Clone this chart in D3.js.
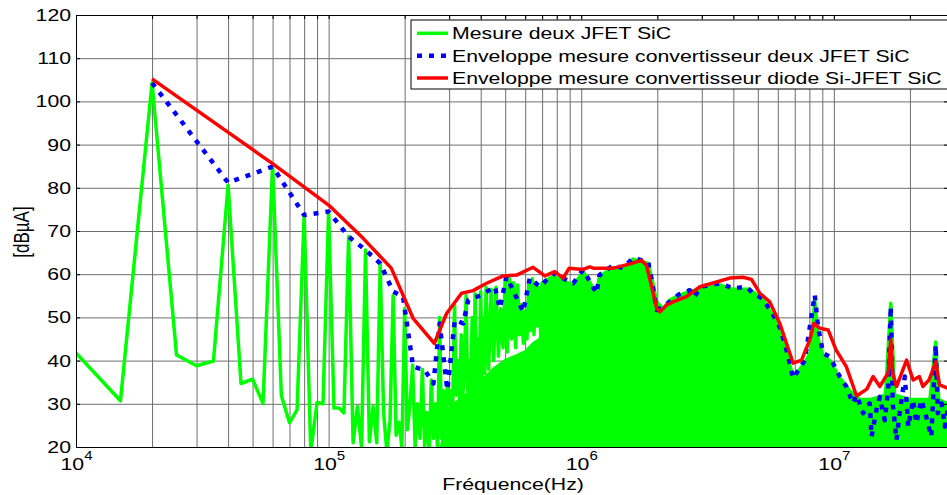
<!DOCTYPE html>
<html><head><meta charset="utf-8">
<script src="https://cdn.jsdelivr.net/npm/d3@7"></script>
<style>html,body{margin:0;padding:0;background:#fff;}svg{display:block;}</style>
</head><body>
<svg id="chart" width="947" height="495"></svg>
<script>
// ---------------- DATA ----------------
const seriesNames = ["Mesure deux JFET SiC",
  "Enveloppe mesure convertisseur deux JFET SiC",
  "Enveloppe mesure convertisseur diode Si-JFET SiC"];
const yTickValues = [20,30,40,50,60,70,80,90,100,110,120];
const xTickValues = [1e4,1e5,1e6,1e7];
const xTickExponents = ["4","5","6","7"];
const xLabel = "Fréquence(Hz)";
const yLabel = "[dBµA]";

// Green measurement: individual spectral lines (kHz, dBµA)
const greenSpikeKHz = [10,15,20,25,30,35,40,45,50,55,60,65,70,75,80,85,90,95,100,105,110,115,120,125,130,135,140,145,150,155,160,165,170,175,180,185,190,195,200,205,210,215,220,225,230,235,240,245,250,255,260,265,270,275,280,285,290,295,300,305,310,315,320,325,330,335,340,345,350,355,360,365,370,375,380,385,390,395,400,405,410,415,420,
  430,440,450,460,470,480,490,500,510,520,530,540,550,560,570,580,590,600,610,620,630,640,650,660,670,680,690,700];
const greenSpikeDb = [41.8,30.7,104.3,41.3,38.8,39.9,80.6,34.7,35.7,30.1,
  85.3,31.9,25.6,28.6,73.7,19,30.3,30,74.5,29,
  29,27.9,68.7,21,29.4,20,65.6,21.2,29.4,21,
  62.5,28,19,26,55,22.7,25.7,20,52,24,
  30,39,20,30,22,38,20,28,19,35.5,
  22,30,19,50,22,33,19,34.7,30,33,
  30,53,32,40,31,46,32,38,55,33,
  40,33,50,33,55.5,35,45,35,56,36,
  50,37,57,
  38,56.5,40,57,41,52,43,59,42,59,45,58,43,57.5,46,53,44,51.5,45,58.5,47,59,46,58,48,57,47,58];

// Green measurement: dense band, upper edge (MHz, dBµA)
const greenBandMHz = [0.28,0.30,0.35,0.40,0.45,0.50,0.55,0.60,0.65,0.69,0.70,0.774,0.929,1.02,1.15,1.18,1.34,1.46,1.60,1.84,1.92,1.99,2.11,2.24,2.42,2.69,2.99,3.54,3.99,4.65,5.25,5.93,6.49,6.90,7.67,8.10,8.40,8.66,9.06,9.63,10.55,11.56,12.66,14.0,16.0,16.8,17.4,20.0,24.0,25.3,26.0,28.3];
const greenBandDb  = [20,29,32,35,38,40,41,42,44,45,58,59.5,57.5,60.5,55.5,59.5,61.5,61,63.5,62.5,58,53.5,52,54,55,56,56.5,57.5,56.5,56.5,54,49,42,36,39.5,42,54,45,41,40,36,33,31,31,32,53.3,32,31,31,44.3,31,30];

// Blue envelope, converter with two SiC JFETs (MHz, dBµA)
const blueMHz = [0.020,0.040,0.060,0.080,0.100,0.120,0.140,0.160,0.180,0.197,0.216,0.240,0.260,0.275,0.295,0.316,0.341,0.357,0.403,0.455,0.476,0.506,0.589,0.626,0.686,0.774,0.929,1.017,1.15,1.18,1.34,1.46,1.60,1.84,1.90,1.99,2.11,2.24,2.42,2.69,2.80,2.99,3.54,3.99,4.50,4.79,5.20,5.66,6.10,6.49,6.90,7.67,8.40,8.66,9.06,9.63,10.55,11.2,11.9,12.3,13.05,13.87,14.1,14.74,15.2,15.9,16.4,16.8,17.1,17.7,18.2,19.1,19.7,20.6,21.2,22.2,23.2,24.3,25.3,25.8,26.7,27.5,28.3];
const blueDb  = [104.3,81.2,84.9,73.7,74.5,68.7,65.6,62.5,56.0,54.8,38.6,37.8,34.7,48.6,33.2,49.4,48.6,54.0,55.2,57.1,52.1,59.4,51.3,59.1,57.1,60.2,57.9,61.0,55.6,59.8,62.1,61.4,63.7,62.9,58.7,51.7,52.5,53.6,55.2,56.3,54.8,57.1,57.9,56.7,57.1,55.6,54.4,51.3,47.8,42.5,35.9,40.1,55.2,47.8,41.7,40.9,36.3,34.0,30.1,32.0,27.8,30.1,22.4,28.6,31.6,26.2,33.2,52.5,30.0,21.6,27.8,36.3,24.7,30.9,25.5,30.9,27.0,22.4,43.6,27.8,30.1,24.7,29.0];

// Red envelope, converter with Si diode + SiC JFET (MHz, dBµA)
const redMHz = [0.020,0.060,0.100,0.137,0.177,0.216,0.262,0.293,0.336,0.373,0.422,0.491,0.555,0.645,0.718,0.786,0.848,0.896,1.017,1.08,1.115,1.34,1.56,1.73,1.81,1.90,1.99,2.05,2.18,2.31,2.61,2.95,3.43,3.87,4.37,4.72,5.09,5.57,6.11,6.90,7.45,8.03,8.33,8.80,9.49,10.2,11.2,12.3,13.5,14.3,15.2,15.9,16.4,16.8,17.1,17.7,19.4,20.6,21.8,22.5,23.8,25.3,26.2,28.3];
const redDb  = [105.2,85.6,76.0,68.3,61.4,49.8,44.0,50.9,55.6,56.2,57.9,59.6,59.8,61.6,59.6,60.6,59.1,61.4,61.1,61.7,61.4,61.4,62.4,63.2,62.1,57.1,52.1,51.3,52.9,53.6,54.8,57.1,58.2,59.1,59.3,58.8,55.6,53.6,48.6,39.4,40.1,44.8,48.6,47.5,47.1,42.5,38.6,31.8,33.4,36.3,34.0,35.9,37.1,44.8,37.0,34.0,40.1,35.5,36.3,34.0,35.5,39.7,34.4,33.6];

const colors = ["#00ff00","#0000ff","#ff0000"];

// ---------------- CHART ----------------
const L = 76, R = 948, T = 15, B = 447;
const FONT = "'Liberation Sans', Arial, Helvetica, sans-serif";
const SX = 1.25; // horizontal stretch of the original raster

const svg = d3.select("#chart");
const x = d3.scaleLog().domain([1e4, 2.83e7]).range([L, R]);
const y = d3.scaleLinear().domain([20, 120]).range([B, T]);

svg.append("defs").append("clipPath").attr("id","plotclip")
  .append("rect").attr("x",L).attr("y",T).attr("width",R-L).attr("height",B-T);

// grid
const gridColor = "#6e6e6e";
svg.append("g").attr("transform",`translate(0,${B})`)
  .call(d3.axisBottom(x).tickValues(x.ticks()).tickSize(-(B-T)).tickFormat(""))
  .call(g=>g.select(".domain").remove())
  .call(g=>g.selectAll("line").attr("stroke",gridColor).attr("stroke-width",1));
svg.append("g").attr("transform",`translate(${L},0)`)
  .call(d3.axisLeft(y).tickValues(yTickValues.slice(1,-1)).tickSize(-(R-L)).tickFormat(""))
  .call(g=>g.select(".domain").remove())
  .call(g=>g.selectAll("line").attr("stroke",gridColor).attr("stroke-width",1));

const plot = svg.append("g").attr("clip-path","url(#plotclip)");

// green: dense band as area + spike line
const bandData = greenBandMHz.map((f,i)=>({f:f*1e6, v:greenBandDb[i]}));
plot.append("path").datum(bandData)
  .attr("d", d3.area().x(d=>x(d.f)).y0(y(20)).y1(d=>y(d.v)))
  .attr("fill", colors[0]);
plot.append("path").datum(bandData)
  .attr("d", d3.line().x(d=>x(d.f)).y(d=>y(d.v)))
  .attr("fill","none").attr("stroke",colors[0]).attr("stroke-width",3.5).attr("stroke-linejoin","round");

const spikeData = greenSpikeKHz.map((f,i)=>({f:f*1e3, v:greenSpikeDb[i]}));
plot.append("path").datum(spikeData)
  .attr("d", d3.line().x(d=>x(d.f)).y(d=>y(d.v)))
  .attr("fill","none").attr("stroke",colors[0]).attr("stroke-width",3.5).attr("stroke-linejoin","round");

// blue dotted envelope
const blueData = blueMHz.map((f,i)=>({f:f*1e6, v:blueDb[i]}));
plot.append("path").datum(blueData)
  .attr("d", d3.line().x(d=>x(d.f)).y(d=>y(d.v)))
  .attr("fill","none").attr("stroke",colors[1]).attr("stroke-width",4.5)
  .attr("stroke-dasharray","5 7").attr("stroke-linejoin","round");

// red envelope
const redData = redMHz.map((f,i)=>({f:f*1e6, v:redDb[i]}));
plot.append("path").datum(redData)
  .attr("d", d3.line().x(d=>x(d.f)).y(d=>y(d.v)))
  .attr("fill","none").attr("stroke",colors[2]).attr("stroke-width",3.5).attr("stroke-linejoin","round");

// axes
const yAxis = svg.append("g").attr("transform",`translate(${L},0)`)
  .call(d3.axisLeft(y).tickValues(yTickValues).tickSize(0).tickPadding(4).tickSizeOuter(0));
yAxis.select(".domain").attr("stroke","#000");
yAxis.selectAll("text").attr("font-family",FONT).attr("font-size",17).attr("fill","#000")
  .attr("transform",`scale(${SX},1)`);

const xAxis = svg.append("g").attr("transform",`translate(0,${B})`)
  .call(d3.axisBottom(x).tickValues(xTickValues).tickSize(0).tickFormat("").tickSizeOuter(0));
xAxis.select(".domain").attr("stroke","#000");
xAxis.selectAll(".tick").each(function(d,i){
  const t = d3.select(this).append("text")
    .attr("y",23).attr("text-anchor","middle").attr("font-family",FONT)
    .attr("font-size",17).attr("fill","#000").attr("transform",`scale(${SX},1)`);
  t.append("tspan").text("10");
  t.append("tspan").attr("dy",-10).attr("font-size",12).text(xTickExponents[i]);
});

// top and right frame with inward ticks
svg.append("g").attr("transform",`translate(0,${T})`)
  .call(d3.axisTop(x).tickValues(x.ticks()).tickSize(-4).tickFormat("").tickSizeOuter(0))
  .call(g=>g.selectAll("line,path").attr("stroke","#000"));
svg.append("g").attr("transform",`translate(${R},0)`)
  .call(d3.axisRight(y).tickValues(yTickValues).tickSize(-4).tickFormat("").tickSizeOuter(0))
  .call(g=>g.selectAll("line,path").attr("stroke","#000"));
svg.append("g").attr("transform",`translate(${L},0)`)
  .call(d3.axisRight(y).tickValues(yTickValues).tickSize(4).tickFormat("").tickSizeOuter(0))
  .call(g=>g.selectAll("line").attr("stroke","#000")).call(g=>g.select(".domain").remove());

// axis labels
svg.append("text").attr("transform",`translate(513,490) scale(${SX},1)`)
  .attr("text-anchor","middle").attr("font-family",FONT).attr("font-size",17).text(xLabel);
svg.append("text").attr("transform",`translate(29,232) rotate(-90) scale(1,${SX})`)
  .attr("text-anchor","middle").attr("font-family",FONT).attr("font-size",17).text(yLabel);

// legend
const lg = svg.append("g");
lg.append("rect").attr("x",411).attr("y",20).attr("width",545).attr("height",69)
  .attr("fill","#fff").attr("stroke","#000").attr("stroke-width",1);
const rowBase = [39.3, 61.7, 84];
seriesNames.forEach((name,i)=>{
  const ly = rowBase[i]-6;
  const ln = lg.append("line").attr("x1",417).attr("x2",448).attr("y1",ly).attr("y2",ly)
    .attr("stroke",colors[i]).attr("stroke-width", i===1?4.5:3.5);
  if(i===1) ln.attr("stroke-dasharray","5 7");
  lg.append("text").attr("transform",`translate(452,${rowBase[i]}) scale(${SX},1)`)
    .attr("font-family",FONT).attr("font-size",17).attr("fill","#000").text(name);
});
</script>
</body></html>
